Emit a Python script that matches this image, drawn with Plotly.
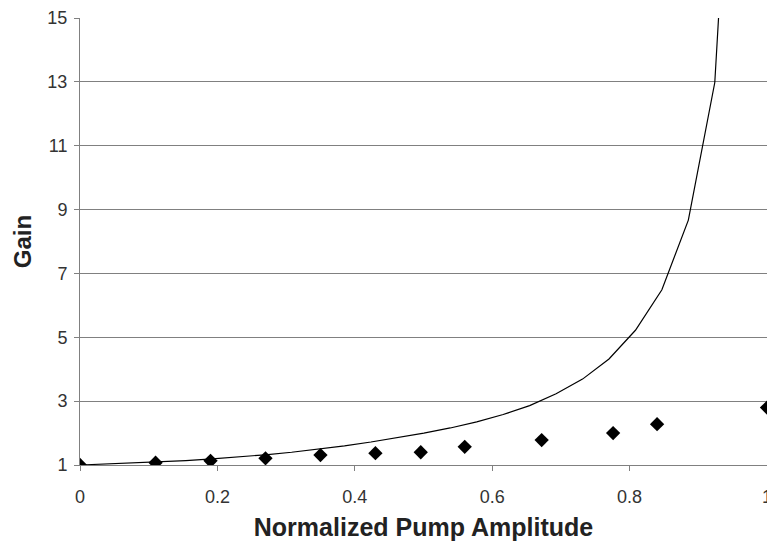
import plotly.graph_objects as go

# Theoretical gain curve (line)
line_x = [0, 0.0385, 0.077, 0.1155, 0.154, 0.1925, 0.231, 0.2695, 0.308, 0.3465,
          0.385, 0.4235, 0.462, 0.5005, 0.539, 0.5775, 0.616, 0.6545, 0.693, 0.7315,
          0.77, 0.8085, 0.847, 0.8855, 0.924, 0.93]
line_y = [1.0, 1.03, 1.06, 1.10, 1.14, 1.19, 1.25, 1.32, 1.40, 1.49,
          1.60, 1.72, 1.85, 2.00, 2.16, 2.35, 2.58, 2.86, 3.23, 3.69,
          4.32, 5.22, 6.49, 8.67, 12.98, 15.2]

# Measured gain (diamonds)
meas_x = [0, 0.11, 0.19, 0.27, 0.35, 0.43, 0.496, 0.56, 0.672, 0.776, 0.84, 1.0]
meas_y = [1.0, 1.07, 1.13, 1.21, 1.31, 1.37, 1.40, 1.57, 1.78, 2.0, 2.28, 2.8]

x_ticks = [0, 0.2, 0.4, 0.6, 0.8, 1]
x_tick_text = ["0", "0.2", "0.4", "0.6", "0.8", "1"]
y_ticks = [1, 3, 5, 7, 9, 11, 13, 15]

fig = go.Figure()
fig.add_trace(go.Scatter(x=line_x, y=line_y, mode="lines",
                         line=dict(color="black", width=1.2),
                         cliponaxis=False, showlegend=False))
fig.add_trace(go.Scatter(x=meas_x, y=meas_y, mode="markers",
                         marker=dict(symbol="diamond", size=11, color="black"),
                         showlegend=False))

font = "Liberation Sans, Arial, sans-serif"
fig.update_layout(
    width=767, height=543,
    margin=dict(l=80, r=0, t=18, b=78, autoexpand=False),
    paper_bgcolor="white", plot_bgcolor="white",
    font=dict(family=font, size=18, color="#333333"),
    xaxis=dict(range=[0, 1], tickvals=x_ticks, ticktext=x_tick_text,
               automargin=False,
               showgrid=False, zeroline=False, showline=True,
               linecolor="#808080", linewidth=1,
               ticks="outside", ticklen=5, tickcolor="#808080",
               ticklabelstandoff=10, ticklabeloverflow="allow",
               title=dict(text="<b>Normalized Pump Amplitude</b>",
                          font=dict(size=25, color="#222222"), standoff=12)),
    yaxis=dict(range=[1, 15], tickvals=y_ticks,
               automargin=False,
               showgrid=True, gridcolor="#808080", gridwidth=1,
               zeroline=False, showline=True,
               linecolor="#808080", linewidth=1,
               ticks="outside", ticklen=5, tickcolor="#808080",
               ticklabelstandoff=3,
               title=dict(text="<b>Gain</b>",
                          font=dict(size=24, color="#222222"), standoff=8)),
)

fig.write_html("out.html")
